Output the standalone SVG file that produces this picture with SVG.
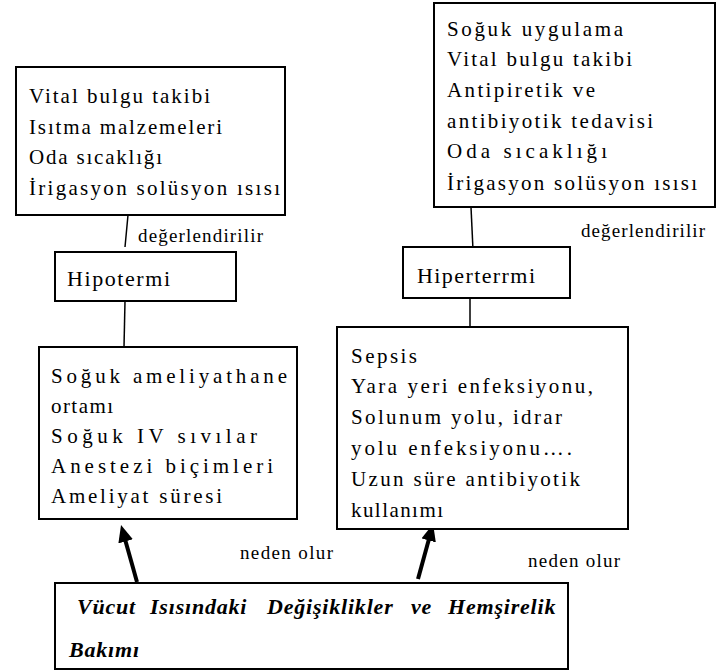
<svg xmlns="http://www.w3.org/2000/svg" width="718" height="671" viewBox="0 0 718 671" font-family="Liberation Serif, Times New Roman, serif">
<style>
.box{fill:#fff;stroke:#000;stroke-width:2}
.t{font-size:21px}
.h{font-size:22px}
.lbl{font-size:19px}
.bi{font-size:22px;font-weight:bold;font-style:italic;letter-spacing:0.8px}
.ln{stroke:#000;stroke-width:1.5;fill:none}
.arr{stroke:#000;stroke-width:4;fill:none}
</style>
<defs>
<marker id="ah" markerUnits="userSpaceOnUse" markerWidth="18" markerHeight="16" refX="3" refY="7.5" orient="auto">
<path d="M0,0 L17,7.5 L0,15 z" fill="#000"/>
</marker>
</defs>
<g id="connectors">
<line class="ln" x1="128" y1="215" x2="125" y2="247"/>
<line class="ln" x1="125" y1="301" x2="124" y2="347"/>
<line class="ln" x1="471" y1="207" x2="473" y2="250"/>
<line class="ln" x1="470" y1="298" x2="470" y2="327"/>
<line class="arr" x1="137" y1="582" x2="124.8" y2="538.5" marker-end="url(#ah)"/>
<line class="arr" x1="418" y1="579" x2="429.4" y2="537.5" marker-end="url(#ah)"/>
<text class="lbl" font-family="Liberation Serif" x="138" y="242" textLength="125" lengthAdjust="spacing">değerlendirilir</text>
<text class="lbl" font-family="Liberation Serif" x="581" y="237" textLength="124" lengthAdjust="spacing">değerlendirilir</text>
<text class="lbl" font-family="Liberation Serif" x="240" y="559" textLength="93" lengthAdjust="spacing">neden olur</text>
<text class="lbl" font-family="Liberation Serif" x="528" y="567" textLength="92" lengthAdjust="spacing">neden olur</text>
</g>
<g id="box-hipo-care" font-family="Liberation Serif">
<rect class="box" x="16" y="67" width="269" height="148"/>
<text class="t" x="29" y="103" textLength="181" lengthAdjust="spacing">Vital  bulgu takibi</text>
<text class="t" x="29" y="134" textLength="193" lengthAdjust="spacing">Isıtma  malzemeleri</text>
<text class="t" x="29" y="164" textLength="133" lengthAdjust="spacing">Oda sıcaklığı</text>
<text class="t" x="29" y="195" textLength="251" lengthAdjust="spacing">İrigasyon solüsyon ısısı</text>
</g>
<g id="box-hiper-care" font-family="Liberation Serif">
<rect class="box" x="434" y="3" width="281" height="204"/>
<text class="t" x="447" y="36" textLength="176" lengthAdjust="spacing">Soğuk uygulama</text>
<text class="t" x="447" y="66" textLength="185" lengthAdjust="spacing">Vital  bulgu takibi</text>
<text class="t" x="447" y="97" textLength="148" lengthAdjust="spacing">Antipiretik ve</text>
<text class="t" x="447" y="128" textLength="206" lengthAdjust="spacing">antibiyotik tedavisi</text>
<text class="t" x="447" y="158" textLength="160" lengthAdjust="spacing">Oda sıcaklığı</text>
<text class="t" x="447" y="190" textLength="250" lengthAdjust="spacing">İrigasyon solüsyon ısısı</text>
</g>
<g id="hipotermi" font-family="Liberation Serif">
<rect class="box" x="55" y="252" width="181" height="49"/>
<text class="h" x="67" y="286" textLength="103" lengthAdjust="spacing">Hipotermi</text>
</g>
<g id="hipertermi" font-family="Liberation Serif">
<rect class="box" x="403" y="247" width="167" height="51"/>
<text class="h" x="417" y="283" textLength="118" lengthAdjust="spacing">Hiperterrmi</text>
</g>
<g id="box-hipo-causes" font-family="Liberation Serif">
<rect class="box" x="39" y="347" width="258" height="172"/>
<text class="t" x="51" y="383" textLength="236" lengthAdjust="spacing">Soğuk ameliyathane</text>
<text class="t" x="51" y="413" textLength="62" lengthAdjust="spacing">ortamı</text>
<text class="t" x="51" y="443" textLength="206" lengthAdjust="spacing">Soğuk IV  sıvılar</text>
<text class="t" x="51" y="473" textLength="222" lengthAdjust="spacing">Anestezi biçimleri</text>
<text class="t" x="51" y="503" textLength="171" lengthAdjust="spacing">Ameliyat  süresi</text>
</g>
<g id="box-hiper-causes" font-family="Liberation Serif">
<rect class="box" x="337" y="327" width="291" height="202"/>
<text class="t" x="351" y="363" textLength="66" lengthAdjust="spacing">Sepsis</text>
<text class="t" x="351" y="393" textLength="242" lengthAdjust="spacing">Yara  yeri enfeksiyonu,</text>
<text class="t" x="351" y="424" textLength="211" lengthAdjust="spacing">Solunum yolu, idrar</text>
<text class="t" x="351" y="455" textLength="221" lengthAdjust="spacing">yolu  enfeksiyonu….</text>
<text class="t" x="351" y="486" textLength="229" lengthAdjust="spacing">Uzun süre antibiyotik</text>
<text class="t" x="351" y="517" textLength="92" lengthAdjust="spacing">kullanımı</text>
</g>
<g id="box-main" font-family="Liberation Serif">
<rect class="box" x="55" y="583" width="513" height="86"/>
<text class="bi" y="614"><tspan x="77">Vücut</tspan> <tspan x="150">Isısındaki</tspan> <tspan x="267">Değişiklikler</tspan> <tspan x="411">ve</tspan> <tspan x="448">Hemşirelik</tspan></text>
<text class="bi" x="69" y="657">Bakımı</text>
</g>
</svg>
